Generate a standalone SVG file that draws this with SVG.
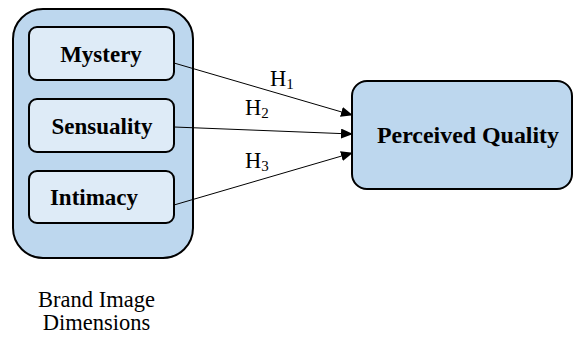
<svg xmlns="http://www.w3.org/2000/svg" width="574" height="337" viewBox="0 0 574 337">
  <defs>
    <marker id="arrow" markerWidth="12" markerHeight="10" refX="11" refY="5" orient="auto" markerUnits="userSpaceOnUse">
      <path d="M0,0 L12,5 L0,10 Z" fill="#000"/>
    </marker>
    <style>
      .outer { fill: #bdd7ee; stroke: #000; stroke-width: 2; }
      .inner { fill: #deebf7; stroke: #000; stroke-width: 2; }
      text { font-family: 'Liberation Serif', 'Times New Roman', serif; fill: #000; }
      .lbl { font-weight: bold; font-size: 23px; text-anchor: middle; }
      .cap { font-size: 22.5px; text-anchor: middle; }
      .h { font-size: 22.5px; }
      .sub { font-size: 15px; }
      .edge { stroke: #000; stroke-width: 1; fill: none; marker-end: url(#arrow); }
    </style>
  </defs>

  <g id="brand-image">
    <rect class="outer" x="13" y="9" width="180" height="249" rx="30" ry="30"/>
  </g>
  <g id="mystery">
    <rect class="inner" x="29" y="27" width="145" height="53" rx="8" ry="8"/>
    <text class="lbl" x="101" y="62">Mystery</text>
  </g>
  <g id="sensuality">
    <rect class="inner" x="29" y="99" width="145" height="53" rx="8" ry="8"/>
    <text class="lbl" x="102" y="134">Sensuality</text>
  </g>
  <g id="intimacy">
    <rect class="inner" x="29" y="171" width="145" height="52" rx="8" ry="8"/>
    <text class="lbl" x="94" y="205">Intimacy</text>
  </g>
  <g id="perceived-quality">
    <rect class="outer" x="352" y="81" width="220" height="108" rx="15" ry="15"/>
    <text class="lbl" x="468" y="143" textLength="182" lengthAdjust="spacingAndGlyphs">Perceived Quality</text>
  </g>
  <g id="caption">
    <text class="cap" x="96.5" y="307">Brand Image</text>
    <text class="cap" x="96.5" y="330">Dimensions</text>
  </g>

  <g id="connectors">
    <line class="edge" x1="174" y1="63" x2="352" y2="115"/>
    <line class="edge" x1="174" y1="127" x2="352" y2="134"/>
    <line class="edge" x1="174" y1="205" x2="352" y2="153"/>
    <text class="h" x="270" y="86">H<tspan class="sub" dy="3">1</tspan></text>
    <text class="h" x="245" y="115">H<tspan class="sub" dy="3">2</tspan></text>
    <text class="h" x="245" y="168">H<tspan class="sub" dy="3">3</tspan></text>
  </g>
</svg>
